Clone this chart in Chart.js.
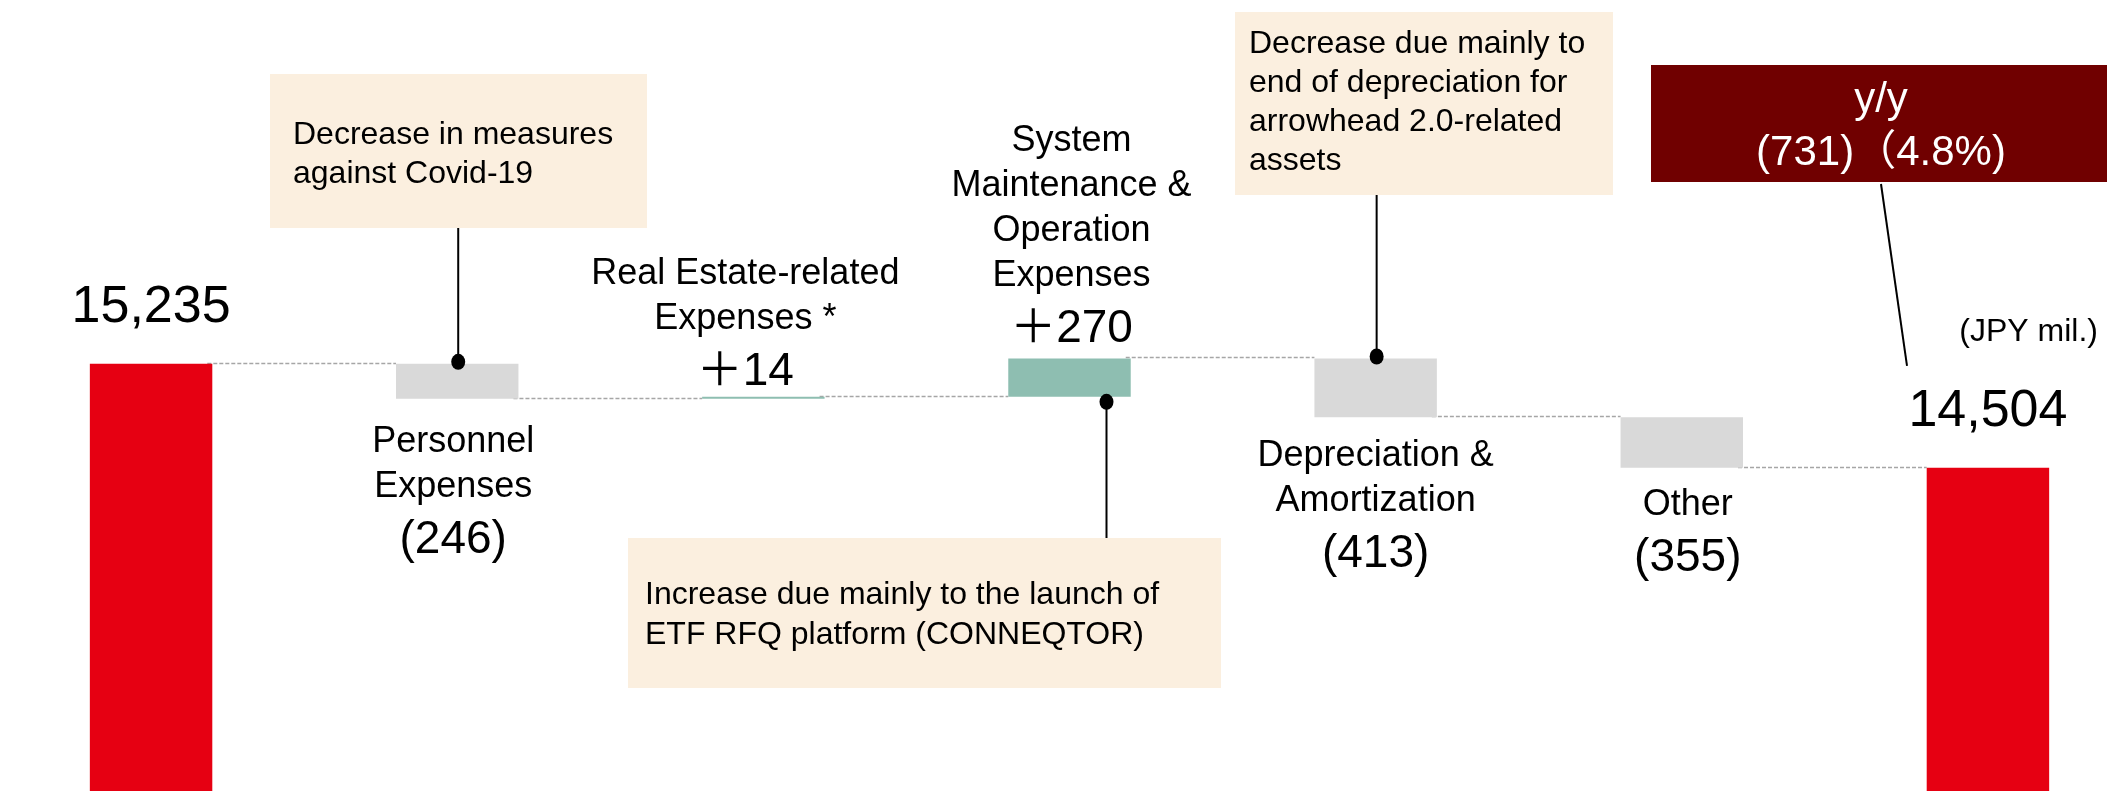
<!DOCTYPE html>
<html>
<head>
<meta charset="utf-8">
<script src="https://cdn.jsdelivr.net/npm/chart.js@4.4.1/dist/chart.umd.min.js"></script>
<style>
	html, body { margin: 0; padding: 0; background: #fff; overflow: hidden; }
	#wrap { position: absolute; left: -2px; top: 0; width: 2143px; height: 791px; }
</style>
</head>
<body>
<div id="wrap"><canvas id="waterfall"></canvas></div>
<script>
'use strict'

// data
const categories = ['Previous year', 'Personnel Expenses', 'Real Estate-related Expenses *', 'System Maintenance & Operation Expenses', 'Depreciation & Amortization', 'Other', 'Current year'];
const labelLines = [[], ['Personnel', 'Expenses'], ['Real Estate-related', 'Expenses *'], ['System', 'Maintenance &', 'Operation', 'Expenses'], ['Depreciation &', 'Amortization'], ['Other'], []];
const startTotal = 15235;
const endTotal = 14504;
const changes = [-246, 14, 270, -413, -355];
const valueLabels = ['15,235', '(246)', '＋14', '＋270', '(413)', '(355)', '14,504'];
const noteTexts = [
	['Decrease in measures', 'against Covid-19'],
	['Increase due mainly to the launch of', 'ETF RFQ platform (CONNEQTOR)'],
	['Decrease due mainly to', 'end of depreciation for', 'arrowhead 2.0-related', 'assets'],
];
const noteCategory = [1, 3, 4];
const yoyLines = ['y/y', '(731)（4.8%)'];
const unitLabel = '(JPY mil.)';

const Y_MIN = 12230;
const Y_MAX = 17795;
const SHIFT = 2; // canvas starts 2px left of the page

const colors = {
	total: '#E60012',
	down: '#D9D9D9',
	up: '#8EBEB1',
	note: '#FBEFDF',
	yoy: '#700000',
	connector: '#A6A6A6',
	text: '#000000',
};
const FONT = '"Liberation Sans", Arial, "Noto Sans CJK JP", sans-serif';

// floating ranges from the running total
let level = startTotal;
const ranges = [[Y_MIN, startTotal]];
const levels = [startTotal];
const barColors = [colors.total];
changes.forEach((c) => {
	ranges.push([level, level + c]);
	level += c;
	levels.push(level);
	barColors.push(c < 0 ? colors.down : colors.up);
});
ranges.push([Y_MIN, endTotal]);
barColors.push(colors.total);

// page-space layout of the callouts
const noteBoxes = [
	{ x: 270, y: 74, w: 377, h: 154, tx: 293, base: 144, lh: 39, leaderDx: 1, side: 'top' },
	{ x: 628, y: 538, w: 593, h: 150, tx: 645, base: 604, lh: 40, leaderDx: 37, side: 'bottom' },
	{ x: 1235, y: 12, w: 378, h: 183, tx: 1249, base: 53, lh: 39, leaderDx: 1, side: 'top' },
];
const labelShift = [0, -4, -18, 2, 0, 6, 0];
const labelNudge = [0, 4, 0, -4, 0, -2, 0];

function font(size) {
	return size + 'px ' + FONT;
}

const annotate = {
	id: 'annotate',
	beforeDatasetsDraw(chart) {
		const ctx = chart.ctx;
		const y = chart.scales.y;
		const bars = chart.getDatasetMeta(0).data;
		ctx.save();
		ctx.strokeStyle = colors.connector;
		ctx.lineWidth = 1.5;
		ctx.setLineDash([4, 2]);
		for (let i = 0; i < levels.length; i++) {
			const py = Math.round(y.getPixelForValue(levels[i])) - 0.5;
			ctx.beginPath();
			ctx.moveTo(bars[i].x + bars[i].width / 2 - 5, py);
			ctx.lineTo(bars[i + 1].x - bars[i + 1].width / 2, py);
			ctx.stroke();
		}
		ctx.restore();
	},
	afterDatasetsDraw(chart) {
		const ctx = chart.ctx;
		const bars = chart.getDatasetMeta(0).data;
		ctx.save();
		ctx.fillStyle = colors.text;
		ctx.textAlign = 'center';
		ctx.textBaseline = 'alphabetic';

		bars.forEach((bar, i) => {
			const top = Math.min(bar.y, bar.base);
			const bottom = Math.max(bar.y, bar.base);
			const cx = bar.x + labelShift[i];
			if (i === 0 || i === bars.length - 1) {
				ctx.font = font(52);
				ctx.fillText(valueLabels[i], bar.x, top - 42);
				return;
			}
			const lines = labelLines[i];
			if (changes[i - 1] < 0) {
				let by = bottom + 49 + labelNudge[i];
				ctx.font = font(36);
				lines.forEach((t) => { ctx.fillText(t, cx, by); by += 45; });
				ctx.font = font(46);
				ctx.fillText(valueLabels[i], cx, by - 45 + 56);
			} else {
				const vb = top - 12 + labelNudge[i];
				ctx.font = font(46);
				ctx.fillText(valueLabels[i], cx, vb);
				ctx.font = font(36);
				let by = vb - 56;
				for (let k = lines.length - 1; k >= 0; k--) {
					ctx.fillText(lines[k], cx, by);
					by -= 45;
				}
			}
		});

		// callouts
		noteBoxes.forEach((b, n) => {
			const bar = bars[noteCategory[n]];
			const top = Math.min(bar.y, bar.base);
			const bottom = Math.max(bar.y, bar.base);
			ctx.fillStyle = colors.note;
			ctx.fillRect(b.x + SHIFT, b.y, b.w, b.h);
			ctx.fillStyle = colors.text;
			ctx.textAlign = 'left';
			ctx.font = font(32);
			noteTexts[n].forEach((t, k) => ctx.fillText(t, b.tx + SHIFT, b.base + k * b.lh));

			const lx = bar.x + b.leaderDx;
			let dotY, y1, y2;
			if (b.side === 'top') {
				dotY = top - 2;
				y1 = b.y + b.h;
				y2 = dotY;
			} else {
				dotY = bottom + 5;
				y1 = dotY;
				y2 = b.y;
			}
			ctx.strokeStyle = colors.text;
			ctx.lineWidth = 2;
			ctx.beginPath();
			ctx.moveTo(lx, y1);
			ctx.lineTo(lx, y2);
			ctx.stroke();
			ctx.beginPath();
			ctx.ellipse(lx, dotY, 7, 8, 0, 0, Math.PI * 2);
			ctx.fill();
		});

		// y/y box
		const endBar = bars[bars.length - 1];
		const endTop = Math.min(endBar.y, endBar.base);
		ctx.fillStyle = colors.yoy;
		ctx.fillRect(1651 + SHIFT, 65, 460, 117);
		ctx.fillStyle = '#FFFFFF';
		ctx.textAlign = 'center';
		ctx.font = font(42);
		ctx.fillText(yoyLines[0], 1881 + SHIFT, 112);
		ctx.fillText(yoyLines[1], 1881 + SHIFT, 165);
		ctx.strokeStyle = colors.text;
		ctx.lineWidth = 2;
		ctx.beginPath();
		ctx.moveTo(1881 + SHIFT, 184);
		ctx.lineTo(1907 + SHIFT, endTop - 102);
		ctx.stroke();

		ctx.fillStyle = colors.text;
		ctx.textAlign = 'right';
		ctx.font = font(32);
		ctx.fillText(unitLabel, 2098 + SHIFT, 341);
		ctx.restore();
	},
};

new Chart(document.getElementById('waterfall'), {
	type: 'bar',
	data: {
		labels: categories,
		datasets: [{
			data: ranges,
			backgroundColor: barColors,
			borderWidth: 0,
			barPercentage: 0.4,
			categoryPercentage: 1.0,
		}],
	},
	options: {
		responsive: true,
		maintainAspectRatio: false,
		animation: false,
		layout: { padding: 0 },
		plugins: {
			legend: { display: false },
			tooltip: { enabled: false },
		},
		scales: {
			x: { display: false },
			y: { display: false, min: Y_MIN, max: Y_MAX },
		},
	},
	plugins: [annotate],
});
</script>
</body>
</html>
